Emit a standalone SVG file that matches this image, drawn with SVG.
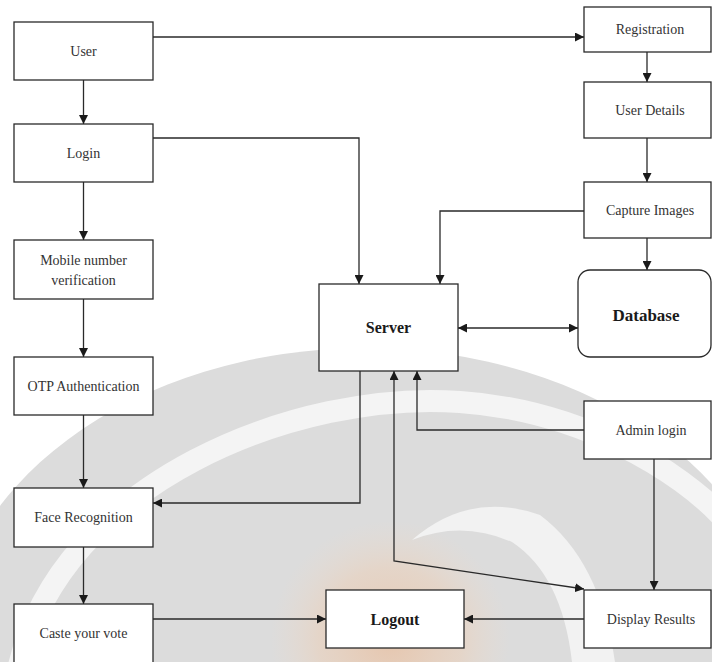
<svg xmlns="http://www.w3.org/2000/svg" width="712" height="662" viewBox="0 0 712 662">
<style>
.box{fill:#ffffff;stroke:#2a2a2a;stroke-width:1.3}
.lbl{font-family:"Liberation Serif","Times New Roman",serif;font-size:14px;fill:#333333;text-anchor:middle}
.big{font-family:"Liberation Serif","Times New Roman",serif;font-size:16px;font-weight:bold;fill:#1a1a1a;text-anchor:middle}
.ln{fill:none;stroke:#2a2a2a;stroke-width:1.3}
</style>
<defs>
<marker id="ah" viewBox="0 0 10 10" refX="10" refY="5" markerWidth="9" markerHeight="9" orient="auto-start-reverse" markerUnits="userSpaceOnUse">
<path d="M0,0 L10,5 L0,10 z" fill="#1a1a1a"/>
</marker>
<radialGradient id="og" cx="0.5" cy="0.5" r="0.5">
<stop offset="0" stop-color="#f0b080" stop-opacity="0.5"/>
<stop offset="0.6" stop-color="#f4c8a4" stop-opacity="0.35"/>
<stop offset="1" stop-color="#f7d9c0" stop-opacity="0"/>
</radialGradient>
</defs>
<rect width="712" height="662" fill="#ffffff"/>
<g id="watermark">
<ellipse cx="365" cy="660" rx="420" ry="312" fill="#dcdcdc"/>
<path d="M 18 670 C 60 480, 300 390, 460 402 C 580 410, 680 470, 725 520" fill="none" stroke="#f4f4f4" stroke-width="22"/>
<circle cx="390" cy="640" r="120" fill="url(#og)"/>
<path d="M 412 540 Q 470 490 540 515 Q 600 560 615 662 L 572 662 Q 562 575 512 542 Q 462 520 412 540 Z" fill="#f2f2f2"/>
</g>
<g id="connectors">
<path class="ln" d="M153 37 H584" marker-end="url(#ah)"/>
<path class="ln" d="M83.5 80 V124" marker-end="url(#ah)"/>
<path class="ln" d="M83.5 182 V240" marker-end="url(#ah)"/>
<path class="ln" d="M83.5 299 V357" marker-end="url(#ah)"/>
<path class="ln" d="M83.5 415 V488" marker-end="url(#ah)"/>
<path class="ln" d="M83.5 547 V604" marker-end="url(#ah)"/>
<path class="ln" d="M153 138 H359 V284" marker-end="url(#ah)"/>
<path class="ln" d="M584 211 H440 V284" marker-end="url(#ah)"/>
<path class="ln" d="M647 52 V82" marker-end="url(#ah)"/>
<path class="ln" d="M647 138 V182" marker-end="url(#ah)"/>
<path class="ln" d="M647 238 V270" marker-end="url(#ah)"/>
<path class="ln" d="M458 328 H578" marker-start="url(#ah)" marker-end="url(#ah)"/>
<path class="ln" d="M360 371 V503 H153" marker-end="url(#ah)"/>
<path class="ln" d="M584 430 H417 V371" marker-end="url(#ah)"/>
<path class="ln" d="M394 371 V561 L584 589" marker-start="url(#ah)" marker-end="url(#ah)"/>
<path class="ln" d="M654 459 V590" marker-end="url(#ah)"/>
<path class="ln" d="M153 619 H326" marker-end="url(#ah)"/>
<path class="ln" d="M584 619 H464" marker-end="url(#ah)"/>
</g>
<g id="user"><rect class="box" x="14" y="22" width="139" height="58"/><text class="lbl" x="83.5" y="56">User</text></g>
<g id="login"><rect class="box" x="14" y="124" width="139" height="58"/><text class="lbl" x="83.5" y="158">Login</text></g>
<g id="mobile"><rect class="box" x="14" y="240" width="139" height="59"/><text class="lbl" x="83.5" y="265">Mobile number</text><text class="lbl" x="83.5" y="285">verification</text></g>
<g id="otp"><rect class="box" x="14" y="357" width="139" height="58"/><text class="lbl" x="83.5" y="391">OTP Authentication</text></g>
<g id="face"><rect class="box" x="14" y="488" width="139" height="59"/><text class="lbl" x="83.5" y="522">Face Recognition</text></g>
<g id="caste"><rect class="box" x="14" y="604" width="139" height="62"/><text class="lbl" x="83.5" y="638">Caste your vote</text></g>
<g id="registration"><rect class="box" x="584" y="7" width="127" height="45"/><text class="lbl" x="650" y="34">Registration</text></g>
<g id="userdetails"><rect class="box" x="584" y="82" width="127" height="56"/><text class="lbl" x="650" y="115">User Details</text></g>
<g id="capture"><rect class="box" x="584" y="182" width="127" height="56"/><text class="lbl" x="650" y="215">Capture Images</text></g>
<g id="database"><rect class="box" x="578" y="270" width="133" height="87" rx="12" ry="12"/><text class="big" x="646" y="321" style="font-size:17px">Database</text></g>
<g id="server"><rect class="box" x="319" y="284" width="139" height="87"/><text class="big" x="388.5" y="333">Server</text></g>
<g id="admin"><rect class="box" x="584" y="401" width="127" height="58"/><text class="lbl" x="651" y="435">Admin login</text></g>
<g id="display"><rect class="box" x="584" y="590" width="127" height="58"/><text class="lbl" x="651" y="624">Display Results</text></g>
<g id="logout"><rect class="box" x="326" y="590" width="138" height="58"/><text class="big" x="395" y="625">Logout</text></g>
</svg>
